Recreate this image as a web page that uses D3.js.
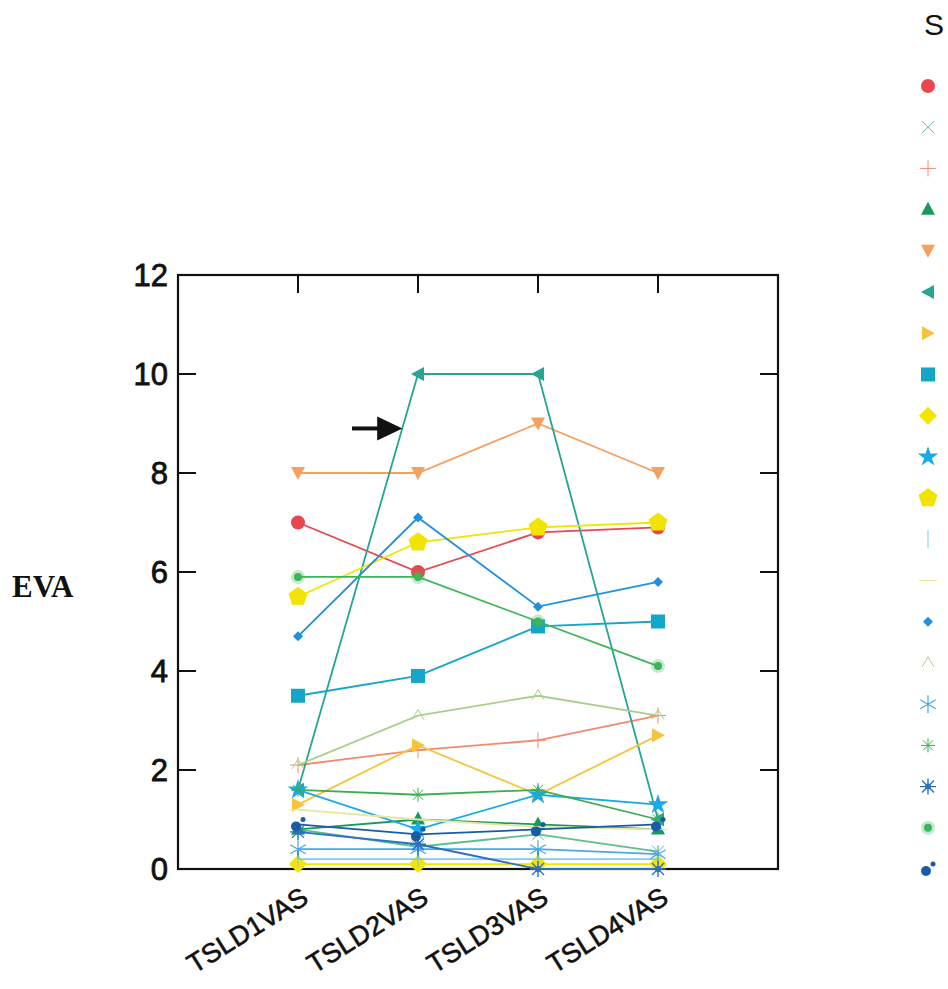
<!DOCTYPE html>
<html>
<head>
<meta charset="utf-8">
<script src="https://cdn.jsdelivr.net/npm/d3@7"></script>
<style>
  body { margin: 0; background: #fff; }
  svg { display: block; }
</style>
</head>
<body>
<svg width="948" height="989"></svg>
<script>
const categories = ['TSLD1VAS', 'TSLD2VAS', 'TSLD3VAS', 'TSLD4VAS'];
const yTicks = [0, 2, 4, 6, 8, 10, 12];
const yLabel = 'EVA';
const legendTitle = 'S';

// one array per subject, values at TSLD1..TSLD4
const s01 = [7.0, 6.0, 6.8, 6.9];
const s02 = [0.8, 0.45, 0.7, 0.35];
const s03 = [2.1, 2.4, 2.6, 3.1];
const s04 = [0.8, 1.0, 0.9, 0.8];
const s05 = [8.0, 8.0, 9.0, 8.0];
const s06 = [1.6, 10.0, 10.0, 1.0];
const s07 = [1.3, 2.5, 1.5, 2.7];
const s08 = [3.5, 3.9, 4.9, 5.0];
const s09 = [0.1, 0.1, 0.1, 0.1];
const s10 = [1.6, 0.8, 1.5, 1.3];
const s11 = [5.5, 6.6, 6.9, 7.0];
const s12 = [0.2, 0.2, 0.2, 0.2];
const s13 = [1.2, 1.0, 0.85, 0.8];
const s14 = [4.7, 7.1, 5.3, 5.8];
const s15 = [2.1, 3.1, 3.5, 3.1];
const s16 = [0.4, 0.4, 0.4, 0.3];
const s17 = [1.6, 1.5, 1.6, 1.0];
const s18 = [0.75, 0.5, 0.0, 0.0];
const s19 = [5.9, 5.9, 5.0, 4.1];
const s20 = [0.9, 0.7, 0.8, 0.9];

const series = [
  { v: s01, color: '#e8474f', shape: 'circle' },
  { v: s02, color: '#5cc08c', shape: 'x' },
  { v: s03, color: '#f08a6c', shape: 'plus' },
  { v: s04, color: '#1a9a5a', shape: 'triUp' },
  { v: s05, color: '#f4a062', shape: 'triDown' },
  { v: s06, color: '#25a592', shape: 'triLeft' },
  { v: s07, color: '#f5c43c', shape: 'triRight' },
  { v: s08, color: '#14a5c8', shape: 'square' },
  { v: s09, color: '#f2e600', shape: 'diamond' },
  { v: s10, color: '#1aa9ea', shape: 'star' },
  { v: s11, color: '#f0e400', shape: 'pentagon' },
  { v: s12, color: '#7fcbea', shape: 'vline' },
  { v: s13, color: '#e4e89a', shape: 'hline' },
  { v: s14, color: '#1f90e0', shape: 'smallDiamond' },
  { v: s15, color: '#a8d08a', shape: 'triUpThin' },
  { v: s16, color: '#4aa8e4', shape: 'asterisk6' },
  { v: s17, color: '#3cae50', shape: 'asterisk' },
  { v: s18, color: '#2e6fc0', shape: 'asteriskBold' },
  { v: s19, color: '#3cb558', shape: 'dot' },
  { v: s20, color: '#1b5aa8', shape: 'dotPair' }
];

const svg = d3.select('svg');
const plot = { left: 178, right: 778, top: 275, bottom: 869 };

const x = d3.scaleLinear().domain([0, 5]).range([plot.left, plot.right]);
const y = d3.scaleLinear().domain([0, 12]).range([plot.bottom, plot.top]);
const xPos = (i) => x(i + 1);

function drawMarker(g, shape, c) {
  const line = (d, w) => g.append('path').attr('d', d).attr('fill', 'none')
    .attr('stroke', c).attr('stroke-width', w || 1.2);
  const poly = (pts) => g.append('polygon').attr('points', pts).attr('fill', c);
  switch (shape) {
    case 'circle': g.append('circle').attr('r', 7).attr('fill', c); break;
    case 'x': line('M-6,-6L6,6M-6,6L6,-6', 1); break;
    case 'plus': line('M-8,0H8M0,-8V8', 1); break;
    case 'triUp': poly('0,-8 7,5 -7,5'); break;
    case 'triUpThin': line('M-6,4L0,-6L6,4', 1); break;
    case 'triDown': poly('0,7 7,-6 -7,-6'); break;
    case 'triLeft': poly('-7,0 6,-7 6,7'); break;
    case 'triRight': poly('7,0 -6,-7 -6,7'); break;
    case 'square': g.append('rect').attr('x', -7).attr('y', -7)
      .attr('width', 14).attr('height', 14).attr('fill', c); break;
    case 'diamond': poly('0,-9 9,0 0,9 -9,0'); break;
    case 'smallDiamond': poly('0,-5 5,0 0,5 -5,0'); break;
    case 'star': g.append('path').attr('d', d3.symbol(d3.symbolStar, 130)()).attr('fill', c); break;
    case 'pentagon': {
      const pts = d3.range(5).map(k => {
        const a = -Math.PI / 2 + k * 2 * Math.PI / 5;
        return [10 * Math.cos(a), 10 * Math.sin(a)].join(',');
      }).join(' ');
      poly(pts); break;
    }
    case 'vline': line('M0,-9V9', 1); break;
    case 'hline': line('M-9,0H9', 1); break;
    case 'asterisk6': {
      let d = '';
      [90, 30, -30].forEach(a => {
        const r = a * Math.PI / 180, dx = 9 * Math.cos(r), dy = 9 * Math.sin(r);
        d += `M${-dx},${-dy}L${dx},${dy}`;
      });
      line(d, 1.2); break;
    }
    case 'asterisk': line('M-7,0H7M0,-7V7M-5,-5L5,5M-5,5L5,-5', 1); break;
    case 'asteriskBold':
      line('M-8,0H8M0,-8V8M-6,-6L6,6M-6,6L6,-6', 1.4);
      g.append('circle').attr('r', 3).attr('fill', c); break;
    case 'dot':
      g.append('circle').attr('r', 7).attr('fill', c).attr('opacity', 0.3);
      g.append('circle').attr('r', 4).attr('fill', c); break;
    case 'dotPair':
      g.append('circle').attr('cx', -2).attr('cy', 2).attr('r', 5).attr('fill', c);
      g.append('circle').attr('cx', 5).attr('cy', -5).attr('r', 2.5).attr('fill', c); break;
  }
}

// frame and ticks
svg.append('rect')
  .attr('x', plot.left).attr('y', plot.top)
  .attr('width', plot.right - plot.left).attr('height', plot.bottom - plot.top)
  .attr('fill', 'none').attr('stroke', '#111').attr('stroke-width', 2.2);

const TICK = 18;
yTicks.forEach(t => {
  svg.append('line').attr('x1', plot.left).attr('x2', plot.left + TICK)
    .attr('y1', y(t)).attr('y2', y(t)).attr('stroke', '#111').attr('stroke-width', 2);
  svg.append('line').attr('x1', plot.right).attr('x2', plot.right - TICK)
    .attr('y1', y(t)).attr('y2', y(t)).attr('stroke', '#111').attr('stroke-width', 2);
  svg.append('text')
    .attr('x', plot.left - 10).attr('y', y(t))
    .attr('dy', '0.36em').attr('text-anchor', 'end')
    .attr('font-family', 'Liberation Sans, Arial, sans-serif')
    .attr('font-size', 31).attr('fill', '#111')
    .attr('stroke', '#111').attr('stroke-width', 0.8)
    .text(t);
});

categories.forEach((c, i) => {
  svg.append('line').attr('x1', xPos(i)).attr('x2', xPos(i))
    .attr('y1', plot.bottom).attr('y2', plot.bottom - TICK).attr('stroke', '#111').attr('stroke-width', 2);
  svg.append('line').attr('x1', xPos(i)).attr('x2', xPos(i))
    .attr('y1', plot.top).attr('y2', plot.top + TICK).attr('stroke', '#111').attr('stroke-width', 2);
  svg.append('text')
    .attr('transform', `translate(${xPos(i) + 12},${plot.bottom + 33}) rotate(-32)`)
    .attr('text-anchor', 'end')
    .attr('font-family', 'Liberation Sans, Arial, sans-serif')
    .attr('font-size', 27).attr('fill', '#111')
    .attr('stroke', '#111').attr('stroke-width', 0.6)
    .text(c);
});

// y label
svg.append('text')
  .attr('x', 12).attr('y', 597)
  .attr('font-family', 'Liberation Serif, Times New Roman, serif')
  .attr('font-weight', 'bold').attr('font-size', 31).attr('fill', '#111')
  .text(yLabel);

// lines and markers
const lineGen = d3.line().x((d, i) => xPos(i)).y(d => y(d));
series.forEach(s => {
  svg.append('path')
    .datum(s.v)
    .attr('fill', 'none')
    .attr('stroke', s.color)
    .attr('stroke-width', 1.8)
    .attr('d', lineGen);
  s.v.forEach((d, i) => {
    const g = svg.append('g').attr('transform', `translate(${xPos(i)},${y(d)})`);
    drawMarker(g, s.shape, s.color);
  });
});

// arrow annotation pointing at the peak series
const ay = y(8.9);
svg.append('line')
  .attr('x1', x(1.45)).attr('x2', x(1.7))
  .attr('y1', ay).attr('y2', ay)
  .attr('stroke', '#111').attr('stroke-width', 4);
svg.append('polygon')
  .attr('points', `${x(1.66)},${ay - 12} ${x(1.87)},${ay} ${x(1.66)},${ay + 12}`)
  .attr('fill', '#111');

// legend title
svg.append('text')
  .attr('x', 924).attr('y', 35)
  .attr('font-family', 'Liberation Sans, Arial, sans-serif')
  .attr('font-size', 30).attr('fill', '#111')
  .text(legendTitle);

const legendY = d3.scaleLinear().domain([0, series.length - 1]).range([86, 869]);
series.forEach((s, i) => {
  const g = svg.append('g').attr('transform', `translate(928,${legendY(i)})`);
  drawMarker(g, s.shape, s.color);
});
</script>
</body>
</html>
